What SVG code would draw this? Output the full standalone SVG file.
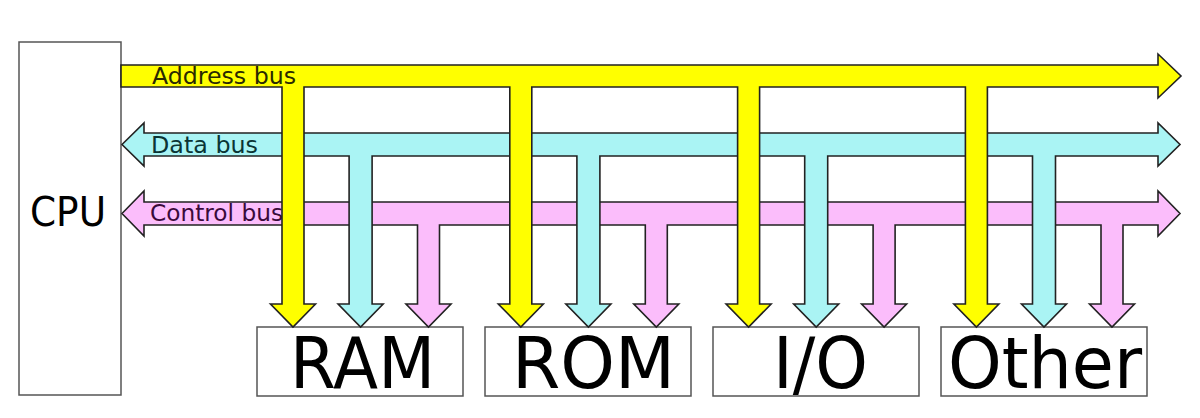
<svg xmlns="http://www.w3.org/2000/svg" width="1200" height="418" viewBox="0 0 1200 418">
<style>
.box{fill:#fff;stroke:#555;stroke-width:1.5}
.big{font-family:"DejaVu Sans",sans-serif;font-size:72px;fill:#000}
.cpu{font-family:"DejaVu Sans",sans-serif;font-size:40px;fill:#000}
.lbl{font-family:"DejaVu Sans",sans-serif;font-size:23px}
.bus{stroke:#222;stroke-width:1.6;stroke-linejoin:miter}
.addr{fill:#ffff00}
.data{fill:#aaf4f4}
.ctrl{fill:#fbbdfb}
</style>
<rect width="1200" height="418" fill="#fff"/>
<g id="cpu">
<rect class="box" x="19" y="42" width="102" height="353"/>
<text class="cpu" x="30" y="226" textLength="76" lengthAdjust="spacingAndGlyphs">CPU</text>
</g>
<g id="ram">
<rect class="box" x="257" y="327" width="206" height="69"/>
<text class="big" x="290" y="388" textLength="145" lengthAdjust="spacingAndGlyphs">RAM</text>
</g>
<g id="rom">
<rect class="box" x="485" y="327" width="206" height="69"/>
<text class="big" x="512" y="388" textLength="163" lengthAdjust="spacingAndGlyphs">ROM</text>
</g>
<g id="io">
<rect class="box" x="713" y="327" width="206" height="69"/>
<text class="big" x="773" y="388" textLength="95" lengthAdjust="spacingAndGlyphs">I/O</text>
</g>
<g id="other">
<rect class="box" x="941" y="327" width="206" height="69"/>
<text class="big" x="948" y="388" textLength="194" lengthAdjust="spacingAndGlyphs">Other</text>
</g>
<g id="connectors">
<path id="control-bus" class="bus ctrl" d="M122,213.5 L144,191 V202 H1158 V191 L1180,213.5 L1158,236 V225
H1123 V304 H1134.5 L1112,327 L1089.5,304 H1101 V225
H895.1 V304 H906.6 L884.1,327 L861.6,304 H873.1 V225
H667.3 V304 H678.8 L656.3,327 L633.8,304 H645.3 V225
H439.5 V304 H451 L428.5,327 L406,304 H417.5 V225
H144 V236 Z"/>
<text class="lbl" x="150" y="221" fill="#3a0a3a" textLength="133" lengthAdjust="spacingAndGlyphs">Control bus</text>
<path id="data-bus" class="bus data" d="M122,144.5 L144,123 V133 H1158 V123 L1180,144.5 L1158,166 V156
H1055.5 V304 H1066.5 L1044,327 L1021.5,304 H1032.5 V156
H827.7 V304 H838.7 L816.2,327 L793.7,304 H804.7 V156
H599.9 V304 H610.9 L588.4,327 L565.9,304 H576.9 V156
H372.1 V304 H383.1 L360.6,327 L338.1,304 H349.1 V156
H144 V166 Z"/>
<text class="lbl" x="151" y="153" fill="#0a3535" textLength="107" lengthAdjust="spacingAndGlyphs">Data bus</text>
<path id="address-bus" class="bus addr" d="M121,65 H1158 V54 L1181,76 L1158,98 V87
H987.4 V304 H998.9 L976.4,327 L953.9,304 H965.4 V87
H759.6 V304 H771.1 L748.6,327 L726.1,304 H737.6 V87
H531.8 V304 H543.3 L520.8,327 L498.3,304 H509.8 V87
H304 V304 H315.5 L293,327 L270.5,304 H282 V87
H121 Z"/>
<text class="lbl" x="152" y="84" fill="#2a2a00" textLength="144" lengthAdjust="spacingAndGlyphs">Address bus</text>
</g>
</svg>
